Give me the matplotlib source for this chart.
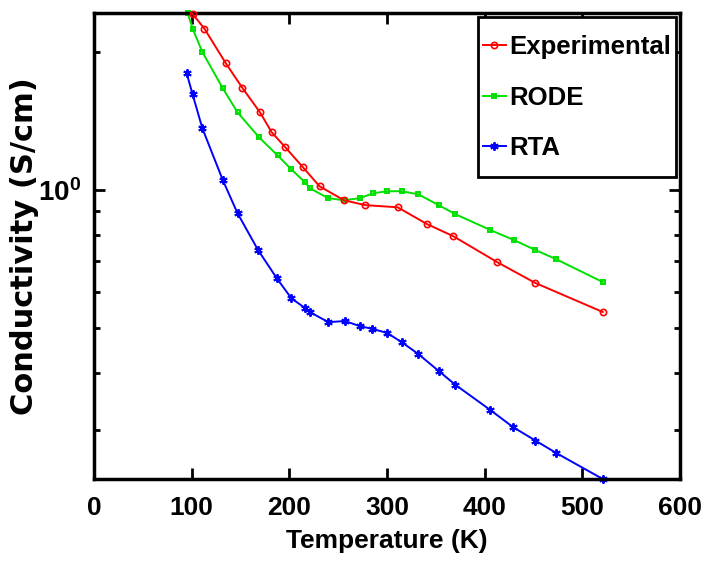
import matplotlib
matplotlib.use("Agg")
import matplotlib.pyplot as plt
from matplotlib.legend_handler import HandlerLine2D
from matplotlib.ticker import FixedLocator, NullFormatter, FixedFormatter

SANS = ["Liberation Sans", "DejaVu Sans"]

# Experimental
t_exp = [101, 113, 135, 152, 170, 182, 196, 214, 231, 256, 278, 311, 341, 368, 413, 452, 521]
s_exp = [2.42, 2.25, 1.89, 1.67, 1.478, 1.337, 1.24, 1.122, 1.02, 0.951, 0.928, 0.918,
         0.844, 0.794, 0.697, 0.628, 0.543]

# RODE
t_rode = [96, 101, 111, 132, 147, 169, 188, 202, 216, 221, 240, 256, 272, 286, 300, 315,
          332, 353, 370, 406, 430, 452, 473, 521]
s_rode = [2.43, 2.25, 2.0, 1.666, 1.478, 1.304, 1.191, 1.111, 1.041, 1.01, 0.961, 0.951,
          0.961, 0.985, 0.995, 0.995, 0.98, 0.928, 0.887, 0.819, 0.779, 0.741, 0.708, 0.631]

# RTA
t_rta = [95, 101, 111, 132, 147, 168, 187, 202, 216, 221, 240, 257, 272, 285, 300, 315,
         332, 353, 370, 406, 429, 452, 473, 521]
s_rta = [1.796, 1.617, 1.364, 1.051, 0.891, 0.741, 0.644, 0.582, 0.554, 0.543, 0.516,
         0.519, 0.506, 0.499, 0.489, 0.467, 0.44, 0.404, 0.377, 0.332, 0.305, 0.285,
         0.268, 0.235]

x_ticks = [0, 100, 200, 300, 400, 500, 600]
y_minor = [0.3, 0.4, 0.5, 0.6, 0.7, 0.8, 0.9, 2.0]


class LowLine(HandlerLine2D):
    # tall legend rows: pull the sample line down level with the text
    def create_artists(self, legend, orig_handle, xdescent, ydescent, width, height,
                       fontsize, trans):
        return super().create_artists(legend, orig_handle, xdescent, ydescent, width,
                                      height - 0.56 * fontsize, fontsize, trans)


plt.rcParams["mathtext.fontset"] = "custom"
plt.rcParams["mathtext.rm"] = "Liberation Sans:bold"
plt.rcParams["mathtext.bf"] = "Liberation Sans:bold"

fig = plt.figure(figsize=(7.06, 5.73), dpi=100)
ax = fig.add_axes([0.1331, 0.164, 0.830, 0.813])

ax.plot(t_exp, s_exp, color="#ff0000", lw=1.4, marker="o", ms=4.5, mfc="none",
        mew=1.2, label="Experimental", clip_on=False, zorder=3)
ax.plot(t_rode, s_rode, color="#00e000", lw=1.4, marker="s", ms=3, mfc="none",
        mew=1.4, label="RODE", clip_on=False, zorder=2)
ax.plot(t_rta, s_rta, color="#0000ff", lw=1.4, marker=(6, 2, 0), ms=6,
        mew=1.4, label="RTA", clip_on=False, zorder=2)

ax.set_yscale("log")
ax.set_xlim(0, 600)
ax.set_ylim(0.235, 2.43)

ax.xaxis.set_major_locator(FixedLocator(x_ticks))
ax.xaxis.set_major_formatter(FixedFormatter([str(v) for v in x_ticks]))
ax.yaxis.set_major_locator(FixedLocator([1.0]))
ax.yaxis.set_major_formatter(FixedFormatter([r"$\mathregular{10^0}$"]))
ax.yaxis.set_minor_locator(FixedLocator(y_minor))
ax.yaxis.set_minor_formatter(NullFormatter())
ax.xaxis.set_minor_locator(FixedLocator([]))

ax.tick_params(which="both", direction="in", top=True, right=True, width=2)
ax.tick_params(which="major", length=8)
ax.tick_params(axis="x", which="major", pad=12)
ax.tick_params(axis="y", which="major", pad=9)
ax.tick_params(which="minor", length=4)
for lab in ax.get_xticklabels():
    lab.set_family(SANS)
    lab.set_fontweight("bold")
    lab.set_fontsize(19)
for lab in ax.get_yticklabels():
    lab.set_family(SANS)
    lab.set_fontweight("bold")
    lab.set_fontsize(20)

for sp in ax.spines.values():
    sp.set_linewidth(2.5)

ax.set_xlabel("Temperature (K)", family=SANS, fontweight="bold", fontsize=19, labelpad=7)
ax.set_ylabel("Conductivity (S/cm)", family=["DejaVu Sans"],
              fontweight="bold", fontsize=22)
ax.yaxis.set_label_coords(-0.093, 0.5)

leg = ax.legend(loc="upper right", prop={"family": SANS, "weight": "bold", "size": 18.5},
                handlelength=0.9, handleheight=2.55, handletextpad=0.12, labelspacing=0.05,
                borderpad=0.2, borderaxespad=0.15, fancybox=False, framealpha=1,
                handler_map={plt.Line2D: LowLine()})
leg.get_frame().set_edgecolor("black")
leg.get_frame().set_linewidth(2)

fig.savefig("out.png", dpi=100)
